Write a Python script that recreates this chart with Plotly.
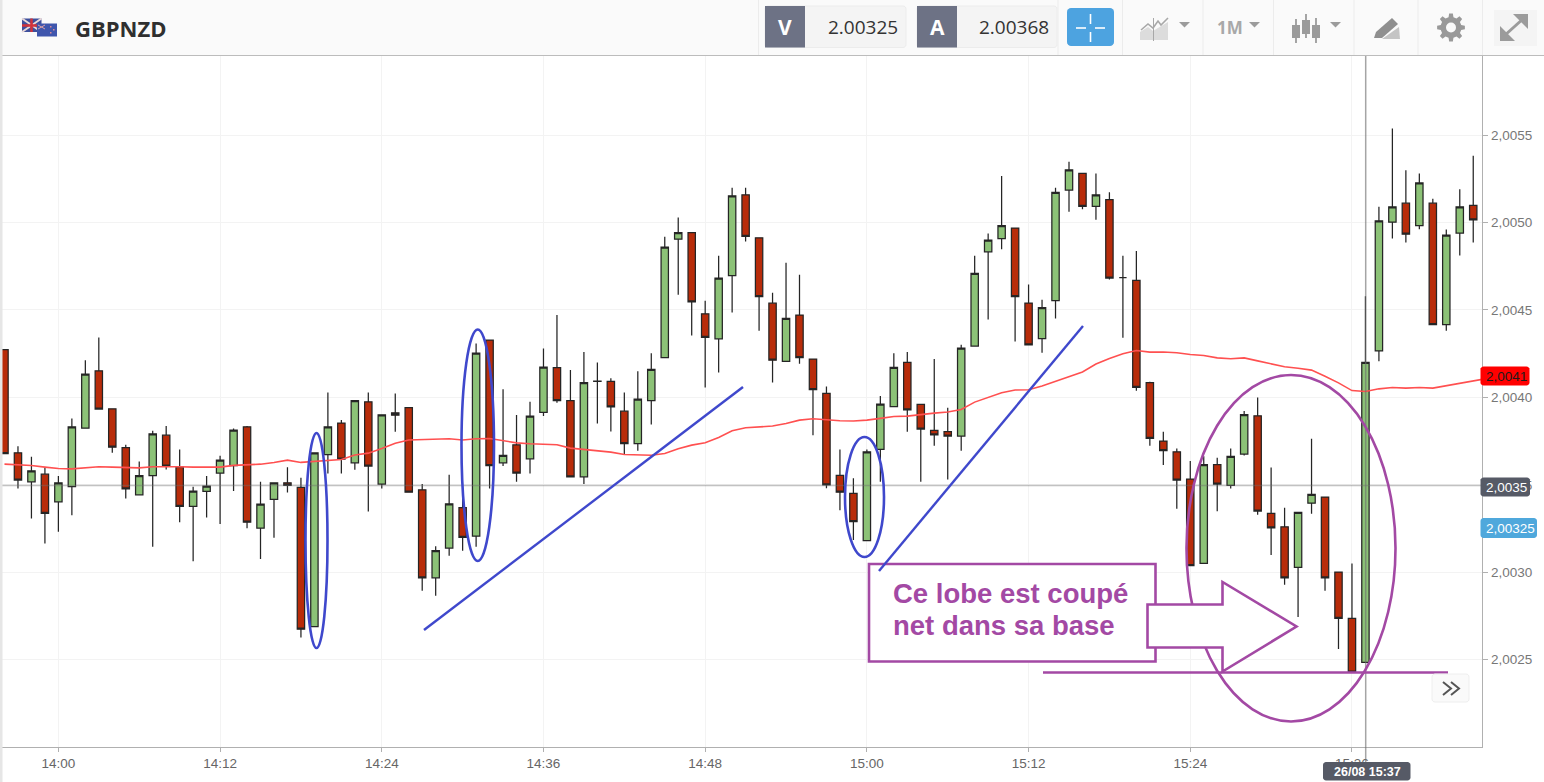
import math
import pandas as pd
import plotly.graph_objects as go

# ---------- Data: prices are 2.00000 + value / 100000 ----------
start_time = "2020-08-26 13:56:00"
opens = [427.4,368.3,351.7,356.1,340.3,349.0,382.4,415.2,393.5,371.2,344.3,355.3,378.4,360.1,337.6,346.2,356.7,360.9,383.2,325.2,341.6,351.1,348.5,268.9,367.3,385.3,362.6,397.5,350.4,391.2,
394.1,347.1,296.8,313.8,337.0,320.6,432.8,362.6,372.9,364.9,391.4,417.1,398.1,354.6,409.1,409.1,392.1,373.6,398.1,422.7,490.5,494.2,447.8,433.5,469.6,515.9,491.3,453.9,
420.6,447.1,421.9,402.3,355.4,345.1,318.0,370.2,394.7,420.0,396.0,381.1,380.4,377.9,429.4,483.3,490.8,496.9,454.0,433.6,455.3,518.6,528.1,509.3,513.1,468.5,466.9,408.4,
375.0,368.9,353.3,305.0,361.5,349.6,367.6,389.5,333.6,326.0,302.7,339.5,343.0,300.1,273.6,248.4,426.6,500.2,511.1,498.3,511.1,441.7,494.0,509.8]
highs = [427.6,372.1,366.0,359.9,355.1,387.9,421.3,434.3,393.5,372.9,363.3,380.9,383.7,370.2,348.9,355.1,366.6,382.2,383.6,351.7,351.1,360.1,354.0,368.3,402.8,387.0,398.2,402.8,390.0,402.2,
394.1,350.4,314.9,355.7,343.1,430.9,432.8,404.7,389.9,397.5,428.0,447.1,415.6,425.9,420.0,411.0,402.8,415.0,425.3,491.9,502.9,494.2,455.3,481.0,519.9,519.9,491.3,459.8,
477.0,470.2,421.9,406.3,370.2,353.7,370.2,400.8,425.2,425.9,396.0,421.9,394.1,430.1,481.0,493.8,526.6,496.9,464.6,455.9,520.0,534.8,528.1,528.1,517.3,481.0,483.7,409.0,
380.3,370.8,363.6,366.4,365.5,370.8,392.2,400.0,359.9,336.9,334.2,376.3,343.0,300.1,305.0,457.9,509.0,553.8,530.0,528.1,513.6,496.1,519.1,538.2]
lows = [367.9,347.9,330.7,316.4,323.1,332.6,382.4,393.3,368.3,342.2,344.3,314.5,358.8,328.6,306.3,331.3,327.5,346.4,325.2,307.5,319.7,345.6,262.7,268.9,356.5,356.5,358.6,334.7,347.9,380.3,
345.8,289.4,286.5,309.4,312.2,314.5,347.9,360.7,351.7,356.5,389.3,396.9,354.6,350.4,385.1,380.5,367.5,369.5,384.5,422.7,458.7,435.4,405.7,414.3,448.6,489.2,438.1,408.5,
420.6,419.3,378.3,348.0,335.5,318.4,318.0,351.8,394.7,380.4,351.8,372.4,353.1,369.5,429.0,444.6,484.7,432.0,430.1,425.6,445.2,506.2,507.7,501.6,467.5,434.1,403.8,372.4,
361.3,336.3,303.7,305.0,334.8,347.9,366.8,332.9,309.8,292.8,274.3,333.4,289.4,256.0,242.8,248.4,420.7,490.9,488.6,496.2,441.7,438.1,481.2,488.6]
closes = [367.9,352.7,358.0,333.6,351.1,383.2,413.3,393.3,371.5,347.7,355.3,379.2,360.7,337.6,346.4,349.2,364.1,381.3,328.6,338.9,351.1,349.6,267.4,368.3,383.2,364.7,398.2,360.7,390.0,389.8,
345.8,296.8,312.4,339.1,319.9,425.3,360.9,366.8,356.7,389.3,417.3,398.1,354.6,408.4,409.3,394.6,373.6,399.0,416.0,486.0,494.2,454.7,434.3,468.2,515.3,492.1,457.6,421.3,
445.2,422.7,404.4,349.9,345.8,328.9,368.9,396.2,417.2,392.8,381.9,378.5,377.9,428.2,470.9,490.0,498.2,457.6,430.1,451.3,517.3,530.2,509.3,515.9,468.3,468.5,405.7,376.5,
369.5,352.7,303.7,361.5,350.4,366.2,390.1,335.0,325.4,296.8,334.2,344.5,296.8,273.6,242.8,420.0,501.0,509.0,493.4,522.7,441.7,492.8,509.0,501.6]
moving_average = [361.8,361.4,361.0,360.1,359.3,359.1,359.7,360.3,360.1,359.7,359.7,360.3,360.5,360.3,360.1,360.1,360.1,361.1,361.6,361.8,362.8,364.1,362.8,363.3,364.1,364.5,367.0,368.1,370.7,373.8,
375.6,375.7,375.9,376.3,375.6,376.3,376.5,375.4,374.0,373.5,373.3,372.9,371.0,370.2,369.6,368.7,367.3,366.9,366.9,367.9,370.6,372.7,374.0,377.1,380.9,382.6,383.2,383.6,
385.1,387.0,387.8,387.0,386.6,386.5,387.0,388.0,389.1,389.3,390.3,391.0,391.6,393.1,397.3,400.0,402.7,404.2,404.4,406.5,409.2,411.8,414.5,419.1,422.3,425.0,426.8,425.9,
426.0,425.5,424.5,424.0,422.6,422.1,422.6,420.9,419.4,417.5,416.7,415.6,412.1,408.3,403.9,403.4,404.9,405.7,405.3,405.7,405.3,406.6,408.0,409.5,410.8]
y_ticks = [2.0025, 2.0030, 2.0035, 2.0040, 2.0045, 2.0050, 2.0055]

symbol = "GBPNZD"
bid = "2.00325"
ask = "2.00368"
note_lines = ["Ce lobe est coupé", "net dans sa base"]
last_ma = "2,0041"
cross_price = "2,0035"
bid_badge = "2,00325"
cross_time = "26/08 15:37"

# ---------- Layout geometry ----------
W, H = 1544, 782
L, R, T, B = 0, 62, 56, 35
PW, PH = W - L - R, H - T - B

def px(x):
    return (x - L) / PW

def py(y):
    return 1 - (y - T) / PH

def to_price(v):
    return [2 + a / 100000 for a in v]

def rect(x0, y0, x1, y1, fill=None, line=None, lw=1, layer="above"):
    return dict(type="rect", xref="paper", yref="paper", x0=px(x0), x1=px(x1), y0=py(y0), y1=py(y1),
                fillcolor=fill or "rgba(0,0,0,0)", line=dict(color=line or "rgba(0,0,0,0)", width=lw if line else 0), layer=layer)

def ellipse(x0, y0, x1, y1, color, lw=2.6, fill=None):
    return dict(type="circle", xref="paper", yref="paper", x0=px(x0), x1=px(x1), y0=py(y0), y1=py(y1),
                fillcolor=fill or "rgba(0,0,0,0)", line=dict(color=color, width=lw), layer="above")

def seg(x0, y0, x1, y1, color, lw=1.0, layer="above"):
    return dict(type="line", xref="paper", yref="paper", x0=px(x0), x1=px(x1), y0=py(y0), y1=py(y1),
                line=dict(color=color, width=lw), layer=layer)

def poly(points, fill=None, line=None, lw=1, close=True):
    d = "M " + " L ".join(f"{px(a):.6f},{py(b):.6f}" for a, b in points) + (" Z" if close else "")
    return dict(type="path", xref="paper", yref="paper", path=d, fillcolor=fill or "rgba(0,0,0,0)",
                line=dict(color=line or "rgba(0,0,0,0)", width=lw if line else 0), layer="above")

def rounded(x0, y0, x1, y1, r, fill, line=None):
    pts = []
    for cx, cy, a0 in ((x1 - r, y0 + r, -90), (x1 - r, y1 - r, 0), (x0 + r, y1 - r, 90), (x0 + r, y0 + r, 180)):
        for k in range(5):
            a = math.radians(a0 + k * 22.5)
            pts.append((cx + r * math.cos(a), cy + r * math.sin(a)))
    return poly(pts, fill=fill, line=line)

def gear(cx, cy, r_out, r_in, teeth, fill):
    pts = []
    for i in range(teeth):
        base = 2 * math.pi * i / teeth
        step = 2 * math.pi / teeth
        for frac, rad in ((-0.30, r_in), (-0.17, r_out), (0.17, r_out), (0.30, r_in)):
            a = base + frac * step
            pts.append((cx + rad * math.cos(a), cy + rad * math.sin(a)))
    return poly(pts, fill=fill)

def label(x, y, text, size=12, color="#333", font="Liberation Sans", anchor="left", bold=False):
    return dict(xref="paper", yref="paper", x=px(x), y=py(y), text=f"<b>{text}</b>" if bold else text, showarrow=False,
                xanchor=anchor, yanchor="middle", align="left", font=dict(size=size, color=color, family=font),
                borderpad=0, borderwidth=0)

times = pd.date_range(start_time, periods=len(opens), freq="min")
ma_times = pd.date_range(start_time, periods=len(moving_average), freq="min")

fig = go.Figure()
edge = "#252525"
fig.add_trace(go.Candlestick(
    x=times, open=to_price(opens), high=to_price(highs), low=to_price(lows), close=to_price(closes),
    increasing=dict(fillcolor="#8cc277", line=dict(color=edge, width=1.25)),
    decreasing=dict(fillcolor="#b82c0a", line=dict(color=edge, width=1.25)),
    whiskerwidth=0, showlegend=False, hoverinfo="skip"))
fig.add_trace(go.Scatter(x=ma_times, y=to_price(moving_average), mode="lines",
                         line=dict(color="#ff5050", width=1.6), showlegend=False, hoverinfo="skip"))

GREY = "#9b9b9b"
PURPLE = "#a349a4"
BLUE = "#3f48cc"
shapes = [
    # crosshair
    seg(0, 485.5, 1482, 485.5, "rgba(110,110,110,0.42)", 1.5),
    seg(1365.7, 56, 1365.7, 770, "rgba(110,110,110,0.62)", 1.5),
    # hand-drawn marks
    ellipse(305.5, 433, 327.5, 648, BLUE),
    ellipse(461.5, 329.5, 494, 561, BLUE),
    ellipse(845, 437, 884, 557, BLUE),
    seg(424, 630, 743, 387, BLUE, 2.4),
    ellipse(1186.5, 375, 1395.5, 721.5, PURPLE),
    seg(1043, 672.5, 1448, 672.5, PURPLE, 2.6),
    rect(869, 564, 1155.5, 661.5, fill="white", line=PURPLE, lw=2.6),
    seg(879, 571, 1083, 326, BLUE, 2.4),
    poly([(1147.5, 604.5), (1222.5, 604.5), (1222.5, 582), (1296.5, 626.5), (1222.5, 671.5), (1222.5, 647.5), (1147.5, 647.5)],
         fill="white", line=PURPLE, lw=2.6),
    # expand-series button
    rounded(1432, 674, 1469, 702, 3, "#fafafa", "#eeeeee"),
    poly([(1443, 682), (1451, 688.5), (1443, 695)], line="#555555", lw=2, close=False),
    poly([(1451, 682), (1459, 688.5), (1451, 695)], line="#555555", lw=2, close=False),
    # price / time badges
    rounded(1480.5, 366.5, 1529.5, 385.5, 3, "#ff0000"),
    rounded(1480.5, 477.5, 1530, 496.5, 3, "#565a66"),
    rounded(1480.5, 518, 1537, 538, 3, "#4fa8dc"),
    rounded(1323, 762, 1410.5, 780.5, 3, "#565a66"),
    # toolbar
    rect(0, 0, W, 55, fill="#fafafa"),
    seg(0, 55.5, W, 55.5, "#bcbcbc", 1.2),
    rect(0, 0, 2.5, H, fill="#e6e6e6"),
]
for sx in (758.5, 1058, 1122.5, 1203, 1273.5, 1354, 1418, 1482.5):
    shapes.append(seg(sx, 0, sx, 55, "#ececec", 1))
shapes += [
    # UK + NZ flags
    rect(22, 18.5, 41.5, 32, fill="#3e4f9c"),
    seg(22, 18.5, 41.5, 32, "#e8d8d8", 2), seg(22, 32, 41.5, 18.5, "#e8d8d8", 2),
    seg(31.5, 18.5, 31.5, 32, "#d2333a", 2.5), seg(22, 25.5, 41.5, 25.5, "#d2333a", 2.5),
    rect(37, 23.5, 57, 36.5, fill="#3f56ad"),
    seg(38, 25, 45, 29, "#d9a0a8", 1), seg(38, 29, 45, 25, "#d9a0a8", 1),
    rect(50, 26, 51.5, 27.5, fill="#d98a9a"), rect(53, 29, 54.5, 30.5, fill="#d98a9a"),
    rect(50, 32, 51.5, 33.5, fill="#d98a9a"),
    # V / A boxes
    rounded(765, 6, 906, 47.5, 3, "#f4f4f4", "#ececec"),
    rect(765, 6, 805, 47.5, fill="#6d7285"),
    rounded(917, 6, 1057, 47.5, 3, "#f4f4f4", "#ececec"),
    rect(917, 6, 957, 47.5, fill="#6d7285"),
    # crosshair button
    rounded(1067, 8, 1114, 46, 4, "#4da3e0"),
    seg(1076, 28, 1086, 28, "white", 1.6), seg(1095, 28, 1105, 28, "white", 1.6),
    seg(1090.5, 14, 1090.5, 24, "white", 1.6), seg(1090.5, 32, 1090.5, 42, "white", 1.6),
    # chart type icon
    poly([(1140, 40), (1140, 32), (1148, 27), (1153, 31), (1168, 22), (1168, 40)], fill="#dcdcdc"),
    poly([(1141, 30), (1148, 24), (1153, 28), (1158, 21), (1161, 25), (1168, 18)], line="#a8a8a8", lw=1.6, close=False),
    seg(1153.5, 18, 1153.5, 41, "#a8a8a8", 1),
    poly([(1179, 22), (1190, 22), (1184.5, 27.5)], fill="#9b9b9b"),
    poly([(1249, 22), (1260, 22), (1254.5, 27.5)], fill="#9b9b9b"),
    # candle icon
    seg(1296, 19, 1296, 43, GREY, 1.8), rect(1292, 25, 1300, 38, fill=GREY),
    seg(1306, 14, 1306, 38, GREY, 1.8), rect(1302, 20, 1310, 34, fill=GREY),
    seg(1316, 18, 1316, 43, GREY, 1.8), rect(1312, 25, 1320, 38, fill=GREY),
    poly([(1330, 22), (1341, 22), (1335.5, 27.5)], fill="#9b9b9b"),
    # drawing icon
    poly([(1382, 39), (1399, 27), (1400, 39)], fill="#c4c4c4"),
    poly([(1374, 38), (1376, 32), (1392, 18), (1398, 24), (1382, 38)], fill="#8f8f8f"),
    # gear icon
    gear(1451, 27.5, 14, 10.5, 8, "#999999"),
    ellipse(1446, 22.5, 1456, 32.5, "#fafafa", lw=0, fill="#fafafa"),
    # expand icon
    rect(1494, 10, 1537, 46, fill="#f4f4f4"),
    seg(1504, 36, 1524, 18, GREY, 3),
    poly([(1513, 14), (1528, 14), (1528, 29)], fill=GREY),
    poly([(1500, 26), (1500, 41), (1515, 41)], fill=GREY),
]

annotations = [
    label(893, 593, note_lines[0], size=27.5, color=PURPLE, bold=True),
    label(893, 625, note_lines[1], size=27.5, color=PURPLE, bold=True),
    label(1486, 376.5, last_ma, size=13.5, color="#1c1c1c"),
    label(1486, 487, cross_price, size=13.5, color="white"),
    label(1486, 528, bid_badge, size=13.5, color="white"),
    label(1367, 771.5, cross_time, size=12.5, color="white", anchor="center", bold=True),
    label(74.5, 27.5, symbol, size=22, color="#2f2f2f", font="Open Sans", bold=True),
    label(785, 27, "V", size=21, color="white", font="Open Sans", anchor="center", bold=True),
    label(937, 27, "A", size=21, color="white", font="Open Sans", anchor="center", bold=True),
    label(898, 27, bid, size=19, color="#333", font="Open Sans", anchor="right"),
    label(1049, 27, ask, size=19, color="#333", font="Open Sans", anchor="right"),
    label(1230, 27.5, "1M", size=17, color="#a8a8a8", font="Open Sans", anchor="center", bold=True),
]

fig.update_layout(
    width=W, height=H, margin=dict(l=L, r=R, t=T, b=B, pad=0),
    paper_bgcolor="white", plot_bgcolor="white", separators=", ",
    showlegend=False, hovermode=False, shapes=shapes, annotations=annotations, boxgap=0.22,
    xaxis=dict(type="date", range=["2020-08-26 13:55:40", "2020-08-26 15:45:39"], rangeslider=dict(visible=False),
               tick0="2020-08-26 14:00:00", dtick=720000, tickformat="%H:%M",
               showgrid=True, gridcolor="#f3f3f3", gridwidth=1, zeroline=False,
               showline=True, linecolor="#b0b0b0", linewidth=1.4,
               ticks="outside", ticklen=4, tickcolor="#b0b0b0",
               tickfont=dict(family="Liberation Sans", size=13.5, color="#666666")),
    yaxis=dict(side="right", range=[2.00200, 2.005953], tickmode="array", tickvals=y_ticks, tickformat=".4f",
               showgrid=True, gridcolor="#f3f3f3", gridwidth=1, zeroline=False,
               showline=True, linecolor="#b0b0b0", linewidth=1.4,
               ticks="outside", ticklen=5, tickcolor="#b0b0b0",
               tickfont=dict(family="Liberation Sans", size=13.5, color="#777777")),
)

fig.write_html("out.html", config=dict(displayModeBar=False),
               post_script="document.body.style.margin='0';document.body.style.overflow='hidden';")
